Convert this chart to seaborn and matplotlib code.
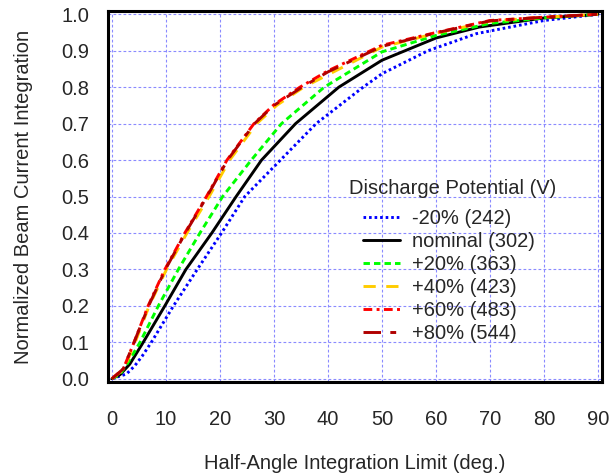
import numpy as np
import pandas as pd
import matplotlib
matplotlib.use("Agg")
import matplotlib.pyplot as plt
import seaborn as sns

# values (angle in deg., normalized integration)
angle_m20 = [0, 2.7, 4.2, 5.6, 7.3, 11.4, 15.8, 20.3, 24.6, 31.2, 37.8, 46.5, 50, 58.5, 67.5, 80, 90]
frac_m20 = [0, 0.013, 0.035, 0.062, 0.1, 0.2, 0.3, 0.4, 0.5, 0.6, 0.7, 0.8, 0.837, 0.9, 0.947, 0.983, 1.0]

angle_nom = [0, 1.5, 3.3, 5.8, 9.8, 13.7, 18.5, 23.0, 27.7, 34.0, 42.0, 50, 60, 68, 80, 90]
frac_nom = [0, 0.011, 0.040, 0.1, 0.2, 0.3, 0.4, 0.5, 0.6, 0.7, 0.8, 0.874, 0.935, 0.965, 0.99, 1.0]

angle_p20 = [0, 1.5, 3.0, 5.2, 8.6, 12.3, 16.3, 20.5, 25.8, 31.4, 39.3, 50, 60, 70, 80, 90]
frac_p20 = [0, 0.012, 0.045, 0.1, 0.2, 0.3, 0.4, 0.5, 0.6, 0.7, 0.8, 0.897, 0.942, 0.975, 0.99, 1.0]

angle_p40 = [0, 2.2, 4.3, 6.9, 10.1, 13.9, 18.0, 21.8, 26.8, 30.5, 35.5, 50, 60, 70, 80, 90]
frac_p40 = [0, 0.026, 0.1, 0.2, 0.3, 0.4, 0.5, 0.6, 0.7, 0.75, 0.8, 0.91, 0.948, 0.981, 0.992, 1.0]

angle_p60 = [0, 2.1, 4.1, 6.7, 9.8, 13.5, 17.5, 21.3, 26.3, 30, 34.8, 40, 50, 60, 70, 80, 90]
frac_p60 = [0, 0.027, 0.1, 0.2, 0.3, 0.4, 0.5, 0.6, 0.7, 0.752, 0.8, 0.845, 0.915, 0.95, 0.983, 0.992, 1.0]

angle_p80 = [0, 2.1, 4.1, 6.8, 9.9, 13.6, 17.6, 21.4, 26.4, 30, 35.2, 40, 50, 60, 70, 80, 90]
frac_p80 = [0, 0.027, 0.1, 0.2, 0.3, 0.4, 0.5, 0.6, 0.7, 0.75, 0.8, 0.842, 0.912, 0.949, 0.982, 0.992, 1.0]

labels = ["-20% (242)", "nominal (302)", "+20% (363)", "+40% (423)", "+60% (483)", "+80% (544)"]
colors = ["#0000ff", "#000000", "#00ff00", "#ffcc00", "#ff0000", "#b00000"]
# dash patterns in units of line width
dash_styles = [(0.9, 1.0), "", (2.2, 1.4), (4.2, 3.6), (3.0, 1.5, 1.0, 1.5), (6.0, 3.2, 2.0, 3.2)]

series = [(angle_m20, frac_m20), (angle_nom, frac_nom), (angle_p20, frac_p20),
          (angle_p40, frac_p40), (angle_p60, frac_p60), (angle_p80, frac_p80)]

frames = []
for lab, (a, f) in zip(labels, series):
    frames.append(pd.DataFrame({"angle": a, "frac": f, "series": lab}))
df = pd.concat(frames, ignore_index=True)

sns.set_style("white")
plt.rcParams["font.family"] = ["Liberation Sans", "DejaVu Sans"]

FS = 14.5
fig = plt.figure(figsize=(6.16, 4.73), dpi=100)
ax = fig.add_axes([0.176, 0.1924, 0.801, 0.7843])

sns.lineplot(data=df, x="angle", y="frac", hue="series", style="series",
             hue_order=labels, style_order=labels,
             palette=dict(zip(labels, colors)), dashes=dict(zip(labels, dash_styles)),
             estimator=None, sort=False, linewidth=2.1, ax=ax)

ax.set_xlim(-0.65, 90.7)
ax.set_ylim(-0.009, 1.009)
ax.set_xticks(np.arange(0, 91, 10))
ax.set_yticks(np.arange(0, 1.01, 0.1))
ax.yaxis.set_major_formatter(matplotlib.ticker.FormatStrFormatter("%.1f"))

ax.grid(True, color="#8a8aff", linestyle=(0, (2.5, 2)), linewidth=0.8)
for s in ax.spines.values():
    s.set_color("black")
    s.set_linewidth(2.2)
ax.tick_params(axis="both", direction="out", length=10, width=2.0, labelsize=FS, color="black")
ax.tick_params(axis="x", pad=10)
ax.tick_params(axis="y", pad=4)

ax.set_xlabel("Half-Angle Integration Limit (deg.)", fontsize=FS, labelpad=18)
ax.set_ylabel("Normalized Beam Current Integration", fontsize=FS, labelpad=20)

# legend title drawn as its own text so its gap to the entries matches
fig.text(452.5 / 616, 1 - 188 / 473, "Discharge Potential (V)", fontsize=FS,
         ha="center", va="center")
handles, labs = ax.get_legend_handles_labels()
leg = ax.legend(handles, labs, frameon=False,
                loc="upper left", bbox_to_anchor=(363 / 616, 1 - 209 / 473),
                bbox_transform=fig.transFigure, borderaxespad=0, borderpad=0,
                fontsize=FS, handlelength=1.85, handletextpad=0.6, labelspacing=0.2)
for h in leg.get_lines():
    h.set_linewidth(2.1)

fig.savefig("out.png", dpi=100)
